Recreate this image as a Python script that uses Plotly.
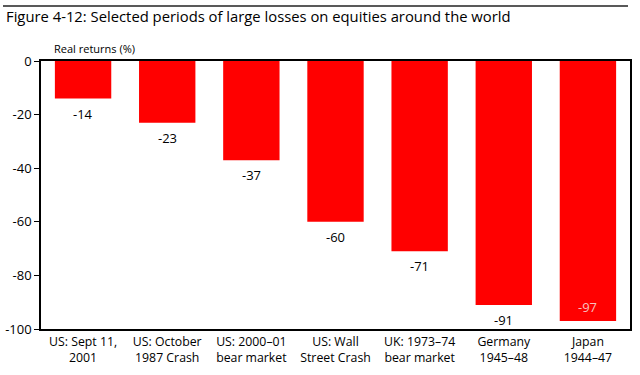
import plotly.graph_objects as go

categories = ["US: Sept 11,<br>2001", "US: October<br>1987 Crash", "US: 2000–01<br>bear market",
              "US: Wall<br>Street Crash", "UK: 1973–74<br>bear market", "Germany<br>1945–48", "Japan<br>1944–47"]
values = [-14, -23, -37, -60, -71, -91, -97]
tick_vals = [0, -20, -40, -60, -80, -100]
tick_text = ["0", "-20", "-40", "-60", "-80", "-100"]

FONT = "Open Sans"
W, H = 640, 375
PL, PR, PT, PB = 41, 630, 61, 329  # plot box in pixels

fig = go.Figure(go.Bar(x=categories, y=values, marker_color="#ff0000", marker_line_width=0,
                       hoverinfo="skip"))

for c, v in zip(categories, values):
    inside = v < -95
    fig.add_annotation(x=c, y=v, text=str(v), showarrow=False,
                       yshift=14 if inside else -15,
                       font=dict(family=FONT, size=13, color="#f7c0c0" if inside else "#000000"))

fig.add_annotation(x=(PL + 11) / W, y=1 - PT / H, xref="paper", yref="paper", text="Real returns (%)",
                   showarrow=False, xanchor="left", yanchor="bottom", yshift=3,
                   font=dict(family=FONT, size=11, color="#000"))

# horizontal rule at the very top of the figure
fig.add_shape(type="line", xref="paper", yref="paper", x0=3 / W, x1=628 / W,
              y0=1 - 6 / H, y1=1 - 6 / H, layer="above", line=dict(color="#222", width=1.5))

fig.update_layout(
    width=W, height=H,
    margin=dict(l=0, r=0, t=0, b=0, pad=0, autoexpand=False),
    paper_bgcolor="white", plot_bgcolor="white",
    bargap=0.33,
    showlegend=False,
    title=dict(text="Figure 4-12: Selected periods of large losses on equities around the world",
               x=6 / W, xanchor="left", xref="paper", y=1 - 17 / H, yanchor="middle",
               font=dict(family=FONT, size=14.8, color="#000")),
    font=dict(family=FONT, size=12, color="#000"),
)
fig.update_xaxes(domain=[PL / W, PR / W], showline=True, linecolor="#000", linewidth=1.5, mirror=True,
                 ticks="", automargin=False,
                 tickfont=dict(family=FONT, size=12.3, color="#000"))
fig.update_yaxes(domain=[1 - PB / H, 1 - PT / H], range=[-100, 0], tickvals=tick_vals, ticktext=tick_text,
                 showgrid=False, zeroline=False,
                 showline=True, linecolor="#000", linewidth=1.5, mirror=True, automargin=False,
                 ticks="outside", ticklen=5, tickcolor="#000",
                 tickfont=dict(family=FONT, size=13, color="#000"))

fig.write_html("out.html", config={"displayModeBar": False},
               post_script="document.body.style.margin='0';")
